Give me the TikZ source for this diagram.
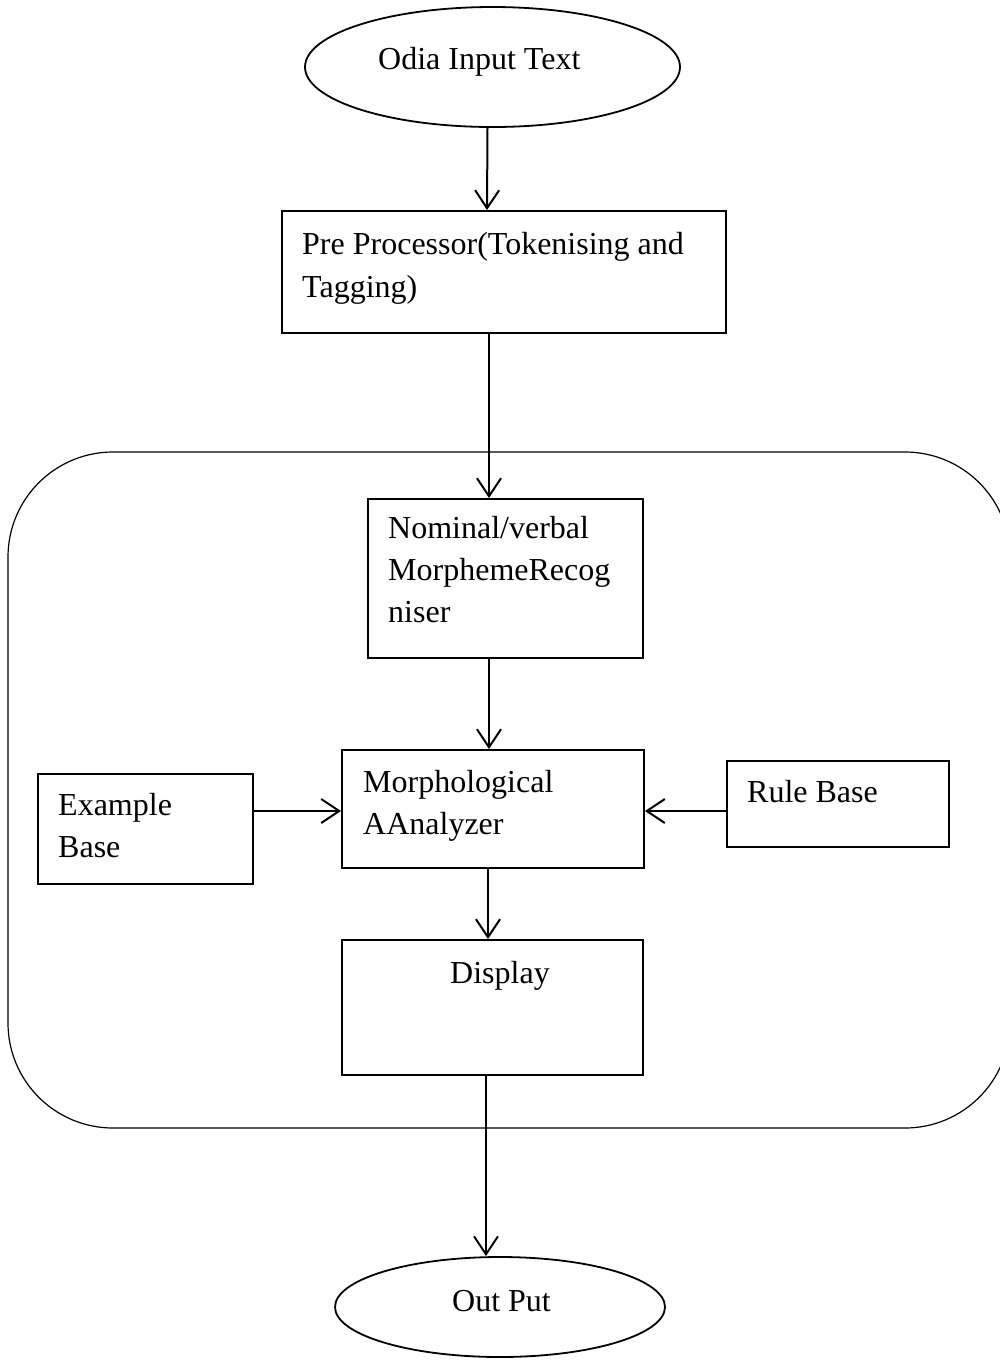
\documentclass[tikz,border=0pt]{standalone}
\usepackage{fontspec}
\setmainfont{Liberation Serif}
\usetikzlibrary{arrows.meta,shapes.geometric}
\begin{document}
\begin{tikzpicture}[x=1pt,y=-1pt,
  box/.style={draw, line width=2pt, inner sep=0pt, rectangle},
  oval/.style={draw, ellipse, line width=1.8pt, inner sep=0pt},
  txt/.style={anchor=base west, inner sep=0pt, font=\fontsize{32}{40}\selectfont},
  arr/.style={line width=2pt, -{Straight Barb[length=18pt,width=24pt,line width=2pt]}},
  frame/.style={draw, line width=1.2pt, rounded corners=105pt}
]
\useasboundingbox (0,0) rectangle (1000,1361);
\draw[frame] (8,452) rectangle (1010,1128);

% shapes
\node[oval, minimum width=375, minimum height=120] (in) at (492.5,67) {};
\node[box, minimum width=444, minimum height=122] (pre) at (504,272) {};
\node[box, minimum width=275, minimum height=159] (nom) at (505.5,578.5) {};
\node[box, minimum width=302, minimum height=118] (mor) at (493,809) {};
\node[box, minimum width=215, minimum height=110] (ex) at (145.5,829) {};
\node[box, minimum width=222, minimum height=86] (rule) at (838,804) {};
\node[box, minimum width=301, minimum height=135] (disp) at (492.5,1007.5) {};
\node[oval, minimum width=330, minimum height=100] (out) at (500,1307) {};

% texts
\node[txt] (inT) at (378,69) {Odia Input Text};
\node[txt] (preT1) at (302,254) {Pre Processor(Tokenising and};
\node[txt] (preT2) at (302,297) {Tagging)};
\node[txt] (nomT1) at (388,538) {Nominal/verbal};
\node[txt] (nomT2) at (388,580) {MorphemeRecog};
\node[txt] (nomT3) at (388,622) {niser};
\node[txt] (morT1) at (363,792) {Morphological};
\node[txt] (morT2) at (363,834) {AAnalyzer};
\node[txt] (exT1) at (58,815) {Example};
\node[txt] (exT2) at (58,857) {Base};
\node[txt] (ruleT) at (747,802) {Rule Base};
\node[txt] (dispT) at (450,983) {Display};
\node[txt] (outT) at (452,1311) {Out Put};

% connectors
\draw[arr] ([xshift=-5pt]in.south) -- ([xshift=-17pt]pre.north);
\draw[arr] ([xshift=-15pt]pre.south) -- ([xshift=-16.5pt]nom.north);
\draw[arr] ([xshift=-16.5pt]nom.south) -- ([xshift=-4pt]mor.north);
\draw[arr] ([yshift=18pt]ex.east) -- ([yshift=-2pt]mor.west);
\draw[arr] ([yshift=-7pt]rule.west) -- ([yshift=-2pt]mor.east);
\draw[arr] ([xshift=-5pt]mor.south) -- ([xshift=-4.5pt]disp.north);
\draw[arr] ([xshift=-6.5pt]disp.south) -- ([xshift=-14pt]out.north);
\end{tikzpicture}
\end{document}
